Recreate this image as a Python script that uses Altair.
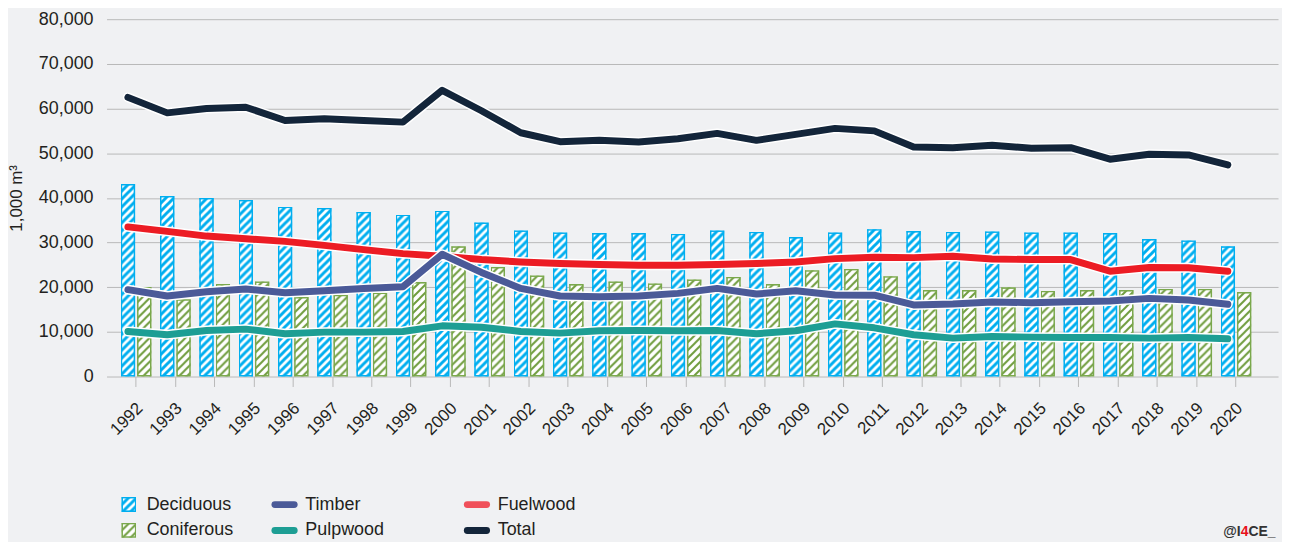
import urllib.parse
import altair as alt
import pandas as pd

# ---------------- data ----------------
years = [1992, 1993, 1994, 1995, 1996, 1997, 1998, 1999, 2000, 2001, 2002, 2003, 2004, 2005, 2006,
         2007, 2008, 2009, 2010, 2011, 2012, 2013, 2014, 2015, 2016, 2017, 2018, 2019, 2020]
deciduous = [43100, 40430, 39980, 39540, 38050, 37750, 36870, 36270, 37160, 34490, 32710, 32260, 32110, 32110, 31970,
             32710, 32410, 31220, 32260, 33000, 32560, 32410, 32490, 32260, 32260, 32110, 30770, 30480, 29150]
coniferous = [20100, 17300, 20690, 21290, 17800, 18300, 18800, 21140, 29150, 24540, 22630, 20690, 21290, 20850, 21740,
              22320, 20690, 23810, 24100, 22470, 19360, 19360, 19960, 19200, 19360, 19360, 19650, 19650, 18910]
timber = [19450, 18020, 18980, 19580, 18760, 19200, 19730, 20090, 27370, 23300, 19730, 18020, 17870, 18020, 18620,
          19730, 18470, 19200, 18250, 18200, 16020, 16240, 16690, 16540, 16760, 16910, 17500, 17130, 16170]
pulpwood = [10080, 9350, 10310, 10610, 9570, 9940, 9940, 10080, 11350, 11050, 10080, 9720, 10240, 10310, 10240,
            10310, 9570, 10240, 11790, 10900, 9350, 8600, 8970, 8820, 8750, 8750, 8600, 8750, 8450]
fuelwood = [33500, 32490, 31440, 30850, 30260, 29370, 28410, 27520, 26920, 26180, 25650, 25290, 25070, 24920, 24920,
            25070, 25290, 25650, 26400, 26700, 26620, 26920, 26320, 26180, 26180, 23590, 24410, 24340, 23590]
total = [62500, 59030, 60000, 60300, 57330, 57700, 57330, 56960, 64080, 59500, 54580, 52580, 52880, 52510, 53250,
         54440, 52880, 54220, 55560, 55000, 51400, 51240, 51770, 51100, 51240, 48660, 49770, 49620, 47390]

legend_labels = ["Deciduous", "Coniferous", "Timber", "Pulpwood", "Fuelwood", "Total"]
y_ticks = [0, 10000, 20000, 30000, 40000, 50000, 60000, 70000, 80000]
y_title = "1,000 m³"
watermark = ["@I", "4", "CE_"]

# ---------------- styles ----------------
FONT = "Liberation Sans"
TEXT = "#231f20"
BG = "#f0f1f3"
GRID = "#b8b8b8"
BLUE = "#00aeef"
GREEN = "#6f9c3d"
GREEN_B = "#7aa84c"
C_TIMBER = "#4b5a98"
C_PULP = "#1d9e94"
C_FUEL = "#ec1c24"
C_FUEL_LEG = "#f0505a"
C_TOTAL = "#13253a"


def hatch_url(stripe, sw, border):
    svg = ("<svg xmlns='http://www.w3.org/2000/svg'>"
           "<defs><pattern id='h' width='8' height='8' patternUnits='userSpaceOnUse'>"
           "<rect width='8' height='8' fill='#ffffff'/>"
           f"<path d='M-2,2 L2,-2 M0,8 L8,0 M6,10 L10,6' stroke='{stripe}' stroke-width='{sw}'/>"
           "</pattern></defs>"
           f"<rect x='0' y='0' width='100%' height='100%' fill='url(#h)' stroke='{border}' stroke-width='3'/>"
           "</svg>")
    return "data:image/svg+xml;charset=utf-8," + urllib.parse.quote(svg)


URL_DEC = hatch_url(BLUE, 3, BLUE)
URL_CON = hatch_url(GREEN, 2, GREEN_B)

df = pd.DataFrame({
    "year": years, "deciduous": deciduous, "coniferous": coniferous,
    "timber": timber, "pulpwood": pulpwood, "fuelwood": fuelwood, "total": total,
})

x_axis = alt.Axis(title=None, domain=False, grid=False, ticks=True, tickSize=10, tickColor=GRID,
                  tickWidth=1, labelAngle=-45, labelAlign="right", labelBaseline="middle",
                  labelPadding=19, labelOffset=4, labelFontSize=17, labelFont=FONT,
                  labelColor=TEXT, labelOverlap=False, labelBound=False)
x_scale = alt.Scale(paddingInner=0, paddingOuter=0.4114, align=0.307)

y_axis = alt.Axis(values=y_ticks, format=",d", grid=True, gridColor=GRID, gridWidth=1,
                  domain=False, ticks=False, tickSize=0, labelPadding=13.5, labelFontSize=18,
                  labelFont=FONT, labelColor=TEXT, title=y_title, titleFont=FONT,
                  titleFontSize=17, titleFontWeight="normal", titleColor=TEXT,
                  titleX=-90, titleY=179.5, titleBaseline="middle", titleAlign="center")
y_scale = alt.Scale(domain=[0, 80000], nice=False, zero=True)


def X():
    return alt.X("year:O", scale=x_scale, axis=x_axis)


def Y(field):
    return alt.Y(f"{field}:Q", scale=y_scale, axis=y_axis)


base = alt.Chart(df)

bars_dec = base.mark_image(url=URL_DEC, aspect=False, width=14.5, xOffset=-8.2).encode(
    x=X(), y=Y("deciduous"), y2=alt.datum(0))
bars_con = base.mark_image(url=URL_CON, aspect=False, width=14.5, xOffset=8.2).encode(
    x=X(), y=Y("coniferous"), y2=alt.datum(0))

layers = [bars_dec, bars_con]
for field, col in [("fuelwood", C_FUEL), ("timber", C_TIMBER), ("pulpwood", C_PULP), ("total", C_TOTAL)]:
    layers.append(base.mark_line(color="white", strokeWidth=10, strokeCap="round", strokeJoin="round",
                                 xOffset=-8.2).encode(x=X(), y=Y(field)))
    layers.append(base.mark_line(color=col, strokeWidth=7, strokeCap="round", strokeJoin="round",
                                 xOffset=-8.2).encode(x=X(), y=Y(field)))

one = pd.DataFrame({"k": [0]})


def text_layer(t, x, y, size=18, color=TEXT, weight="normal", baseline="middle"):
    return alt.Chart(pd.DataFrame({"t": [t]})).mark_text(
        align="left", baseline=baseline, fontSize=size, font=FONT, color=color, fontWeight=weight
    ).encode(x=alt.value(x), y=alt.value(y), text="t:N")


def swatch_img(url, x, y):
    return alt.Chart(one).mark_image(url=url, aspect=False).encode(
        x=alt.value(x), x2=alt.value(x + 15), y=alt.value(y), y2=alt.value(y + 15))


def swatch_line(color, x, y):
    return alt.Chart(one).mark_rule(color=color, strokeWidth=7, strokeCap="round").encode(
        x=alt.value(x), x2=alt.value(x + 19.3), y=alt.value(y))


row1, row2 = 487.7, 513.7
layers += [
    swatch_img(URL_DEC, 15, 480), text_layer(legend_labels[0], 40.3, row1),
    swatch_img(URL_CON, 15, 506), text_layer(legend_labels[1], 40.3, row2),
    swatch_line(C_TIMBER, 169.2, row1), text_layer(legend_labels[2], 199.7, row1),
    swatch_line(C_PULP, 169.2, row2), text_layer(legend_labels[3], 199.7, row2),
    swatch_line(C_FUEL_LEG, 362.5, row1), text_layer(legend_labels[4], 393, row1),
    swatch_line(C_TOTAL, 362.5, row2), text_layer(legend_labels[5], 393, row2),
    text_layer(watermark[0], 1122, 519.3, size=14, color="#333333", weight="bold", baseline="alphabetic"),
    text_layer(watermark[1], 1139.5, 519.3, size=14, color="#e8101a", weight="bold", baseline="alphabetic"),
    text_layer(watermark[2], 1147.3, 519.3, size=14, color="#333333", weight="bold", baseline="alphabetic"),
]

chart = alt.layer(*layers).properties(
    width=1177, height=359,
    autosize=alt.AutoSizeParams(type="none"),
    padding={"left": 99, "top": 10, "right": 4, "bottom": 165},
    background=BG,
).configure_view(stroke=None)

chart.save("out.html", embed_options={"renderer": "svg", "actions": False})
